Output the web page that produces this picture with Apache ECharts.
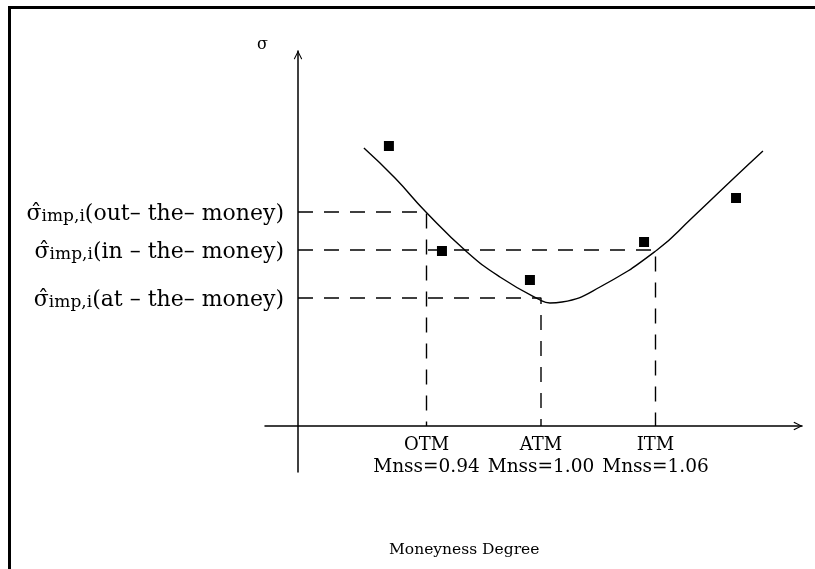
<!DOCTYPE html>
<html>
<head>
<meta charset="utf-8">
<script src="https://cdn.jsdelivr.net/npm/echarts@6/dist/echarts.min.js"></script>
<style>
html,body{margin:0;padding:0;background:#fff;}
#frame{position:absolute;left:8px;top:6px;width:807px;height:563px;border-top:3px solid #000;border-left:3px solid #000;box-sizing:border-box;}
#chart{position:absolute;left:0;top:0;width:815px;height:569px;}
</style>
</head>
<body>
<div id="frame"></div>
<div id="chart"></div>
<script>
// Moneyness (x) and implied volatility (y) values
const curveX = [0.9072, 0.9235, 0.9397, 0.9612, 0.9785, 0.9995, 1.0047, 1.0110, 1.0309, 1.0608, 1.0791, 1.1017, 1.1163];
const curveY = [0.278, 0.248, 0.214, 0.174, 0.149, 0.126, 0.123, 0.124, 0.139, 0.176, 0.208, 0.249, 0.275];
const pointX = [0.9203, 0.9481, 0.9942, 1.0540, 1.1022];
const pointY = [0.280, 0.175, 0.146, 0.184, 0.228];
const levelNames = ['out', 'in', 'at'];
const levelMoneyness = [0.94, 1.06, 1.00];
const levelSigma = [0.214, 0.176, 0.128];
const levelLabels = ['(out\u2013 the\u2013 money)', '(in \u2013 the\u2013 money)', '(at \u2013 the\u2013 money)'];
const levelSubs = ['imp,i', 'imp,i', 'imp,i'];
const tickValues = [0.94, 1.00, 1.06];
const tickNames = ['OTM', 'ATM', 'ITM'];
const tickMnss = ['Mnss=0.94', 'Mnss=1.00', 'Mnss=1.06'];
const xMin = 0.85537, xMax = 1.13677, yAxisAt = 0.87266;
const yMin = -0.046, yMax = 0.375;

const FONT = '"DejaVu Serif", "Liberation Serif", serif';
const arrowUp = 'path://M0,10 L5,0 L10,10 L9,10.8 L5,2.6 L1,10.8 Z';

const chart = echarts.init(document.getElementById('chart'), null, {renderer: 'canvas'});

const dashedSeries = levelNames.map((n, i) => ({
  name: n,
  type: 'line',
  data: [[yAxisAt, levelSigma[i]], [levelMoneyness[i], levelSigma[i]], [levelMoneyness[i], 0]],
  symbol: 'none',
  silent: true,
  lineStyle: {color: '#000', width: 1.4, type: [15, 11]},
  z: 1
}));

chart.setOption({
  animation: false,
  backgroundColor: 'transparent',
  title: [
    {text: 'σ', left: 252, top: 32, textStyle: {fontFamily: FONT, fontSize: 16, fontWeight: 'normal', color: '#000'}},
    {text: 'Moneyness Degree', left: 384, top: 537, textStyle: {fontFamily: FONT, fontSize: 15.5, fontWeight: 'normal', color: '#000'}}
  ],
  grid: {left: 265, right: 13, top: 51, bottom: 97, containLabel: false},
  xAxis: {
    type: 'value', min: xMin, max: xMax,
    splitLine: {show: false},
    axisTick: {show: false},
    axisLine: {onZero: true, lineStyle: {color: '#000', width: 1.5}, symbol: ['none', arrowUp], symbolSize: [12, 9], symbolOffset: [0, -4]},
    axisLabel: {
      customValues: tickValues,
      margin: -38,
      color: '#000',
      fontFamily: FONT,
      formatter: function (v) {
        let k = 0, best = 1e9;
        tickValues.forEach((t, i) => { if (Math.abs(t - v) < best) { best = Math.abs(t - v); k = i; } });
        return '{a|' + tickNames[k] + '}\n{b|' + tickMnss[k] + '}';
      },
      rich: {
        a: {fontFamily: FONT, fontSize: 18, lineHeight: 22, color: '#000'},
        b: {fontFamily: FONT, fontSize: 18.5, lineHeight: 22, color: '#000'}
      }
    }
  },
  yAxis: {
    type: 'value', min: yMin, max: yMax, position: 'left', offset: -33,
    splitLine: {show: false},
    axisTick: {show: false},
    axisLine: {onZero: false, lineStyle: {color: '#000', width: 1.5}, symbol: ['none', arrowUp], symbolSize: [12, 9], symbolOffset: [0, -4]},
    axisLabel: {
      customValues: levelSigma,
      margin: 14,
      color: '#000',
      formatter: function (v) {
        let k = 0, best = 1e9;
        levelSigma.forEach((t, i) => { if (Math.abs(t - v) < best) { best = Math.abs(t - v); k = i; } });
        return '{s|σ\u0302}{sub|' + levelSubs[k] + '}{t|' + levelLabels[k] + '}';
      },
      rich: {
        s: {fontFamily: FONT, fontSize: 22, color: '#000', verticalAlign: 'bottom'},
        sub: {fontFamily: FONT, fontSize: 17, color: '#000', verticalAlign: 'bottom', padding: [9, 0, 0, 0]},
        t: {fontFamily: FONT, fontSize: 22, color: '#000', verticalAlign: 'bottom'}
      }
    }
  },
  series: dashedSeries.concat([
    {
      name: 'smile', type: 'line', smooth: true, symbol: 'none', silent: true,
      data: curveX.map((x, i) => [x, curveY[i]]),
      lineStyle: {color: '#000', width: 1.4}, z: 3
    },
    {
      name: 'observed', type: 'scatter', symbol: 'rect', symbolSize: 10,
      data: pointX.map((x, i) => [x, pointY[i]]),
      itemStyle: {color: '#000', opacity: 1}, z: 4
    }
  ])
});
</script>
</body>
</html>
